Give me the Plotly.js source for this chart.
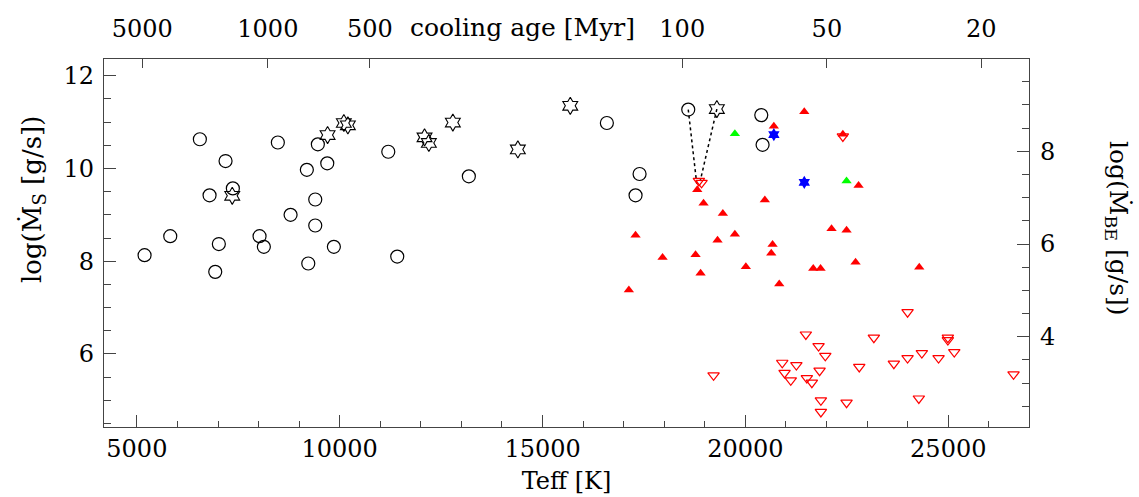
<!DOCTYPE html>
<html>
<head>
<meta charset="utf-8">
<script src="https://cdn.plot.ly/plotly-3.0.1.min.js"></script>
<style>html,body{margin:0;padding:0;background:#fff;}#chart{width:1139px;height:497px;}</style>
</head>
<body>
<div id="chart"></div>
<script>
// Open circles (left axis, log Mdot_S)
const circlesTeff = [5190, 5823, 6553, 6792, 6932, 7021, 7186, 7366, 8024, 8130, 8475, 8789, 9190, 9225, 9397, 9397, 9461, 9693, 9856, 11197, 11418, 13183, 16585, 17391, 17292, 18591, 20391, 20423];
const circlesLogMs = [8.13, 8.54, 10.63, 9.42, 7.77, 8.37, 10.16, 9.57, 8.54, 8.31, 10.56, 9.00, 9.97, 7.95, 9.33, 8.77, 10.52, 10.11, 8.31, 10.36, 8.10, 9.83, 10.98, 9.88, 9.42, 11.27, 11.15, 10.51];

// Open six-pointed stars (left axis)
const starsTeff = [7351, 9701, 10102, 10201, 12091, 12197, 12789, 14391, 15683, 19296];
const starsLogMs = [9.41, 10.72, 10.98, 10.93, 10.67, 10.55, 10.99, 10.41, 11.35, 11.28];

// Filled red triangles (right axis, log Mdot_BE)
const redTeff = [18813, 18968, 19444, 20479, 17292, 19313, 19740, 17958, 18771, 20669, 20637, 20011, 18895, 20834, 17127, 20701, 21451, 22402, 22789, 22123, 22493, 21672, 21852, 22715, 24285];
const redLogMbe = [7.17, 6.88, 6.66, 6.95, 6.19, 6.08, 6.21, 5.71, 5.77, 5.99, 5.80, 5.51, 5.37, 5.14, 5.01, 8.54, 8.85, 8.37, 7.26, 6.33, 6.30, 5.47, 5.47, 5.61, 5.50];

// Green triangles (right axis)
const greenTeff = [19740, 22493];
const greenLogMbe = [8.38, 7.36];

// Blue stars (right axis)
const blueTeff = [20701, 21451];
const blueLogMbe = [8.36, 7.33];

// Open red inverted triangles, upper limits (right axis)
const upperTeff = [18853, 18919, 19215, 20908, 21256, 20965, 21118, 23997, 21490, 23166, 24990, 24990, 21803, 21969, 21828, 21514, 21638, 22806, 23659, 23997, 24349, 24761, 25148, 26609, 21860, 22493, 24275, 21860, 22402];
const upperLogMbe = [7.36, 7.32, 3.17, 3.44, 3.39, 3.22, 3.06, 4.53, 4.05, 3.98, 3.98, 3.93, 3.80, 3.59, 3.27, 3.11, 3.01, 3.35, 3.42, 3.54, 3.65, 3.54, 3.67, 3.19, 2.63, 2.58, 2.67, 2.38, 8.32];

// Dotted connecting lines (left axis units)
const link1Teff = [18591, 18800];
const link1LogMs = [11.27, 9.67];
const link2Teff = [19296, 18886];
const link2LogMs = [11.28, 9.73];

// Top axis: cooling age ticks
const coolingAgeLabels = ['5000', '1000', '500', '100', '50', '20'];
const coolingAgeTeff = [5133, 8229, 10743, 18443, 22008, 25813];

const FONT = 'DejaVu Serif';
const FS = 24;
const xRange = [4190, 26990];
const yLeftRange = [4.425, 12.36];
const yRightRange = [yLeftRange[0] - 2.37, yLeftRange[1] - 2.37];

const traces = [
  {x: link1Teff, y: link1LogMs, mode: 'lines', line: {color: '#000', width: 1.5, dash: 'dot'}, xaxis: 'x', yaxis: 'y', hoverinfo: 'skip'},
  {x: link2Teff, y: link2LogMs, mode: 'lines', line: {color: '#000', width: 1.5, dash: 'dot'}, xaxis: 'x', yaxis: 'y', hoverinfo: 'skip'},
  {x: circlesTeff, y: circlesLogMs, mode: 'markers', marker: {symbol: 'circle-open', size: 13, color: '#000', line: {width: 1.2}}, xaxis: 'x', yaxis: 'y'},
  {x: starsTeff, y: starsLogMs, mode: 'markers', marker: {symbol: 'hexagram-open', size: 13, color: '#000', line: {width: 1.1}}, xaxis: 'x', yaxis: 'y'},
  {x: upperTeff, y: upperLogMbe, mode: 'markers', marker: {symbol: 'triangle-down-open', size: 10, color: '#ff0000', line: {width: 1.2}}, xaxis: 'x', yaxis: 'y2'},
  {x: redTeff, y: redLogMbe, mode: 'markers', marker: {symbol: 'triangle-up', size: 9, color: '#ff0000'}, xaxis: 'x', yaxis: 'y2'},
  {x: greenTeff, y: greenLogMbe, mode: 'markers', marker: {symbol: 'triangle-up', size: 9, color: '#00ff00'}, xaxis: 'x', yaxis: 'y2'},
  {x: blueTeff, y: blueLogMbe, mode: 'markers', marker: {symbol: 'hexagram', size: 10, color: '#0000ff'}, xaxis: 'x', yaxis: 'y2'},
  // invisible trace to activate top axis
  {x: [coolingAgeTeff[0]], y: [yLeftRange[0] - 10], mode: 'markers', marker: {opacity: 0}, xaxis: 'x2', yaxis: 'y', hoverinfo: 'skip'}
];

const axisLine = '#444';
const layout = {
  width: 1139, height: 497,
  margin: {l: 104, r: 110, t: 59, b: 70},
  paper_bgcolor: '#fff', plot_bgcolor: '#fff',
  showlegend: false,
  font: {family: FONT, color: '#000', size: FS},
  xaxis: {
    range: xRange, dtick: 5000, tick0: 0, tickformat: 'd',
    ticks: 'inside', ticklen: 12, tickcolor: axisLine, tickwidth: 1,
    minor: {dtick: 1000, ticks: 'inside', ticklen: 6, tickcolor: axisLine},
    showline: true, linecolor: axisLine, linewidth: 1.2, mirror: true,
    showgrid: false, zeroline: false,
    tickfont: {family: FONT, size: FS},
    title: {text: 'Teff [K]', font: {family: FONT, size: FS}, standoff: 10}
  },
  xaxis2: {
    overlaying: 'x', side: 'top', range: xRange,
    tickmode: 'array', tickvals: coolingAgeTeff, ticktext: coolingAgeLabels,
    ticks: 'inside', ticklen: 9, tickcolor: axisLine, ticklabelstandoff: 16,
    showline: false, showgrid: false, zeroline: false,
    tickfont: {family: FONT, size: FS}
  },
  yaxis: {
    range: yLeftRange, dtick: 2, tick0: 0,
    ticks: 'inside', ticklen: 12, tickcolor: axisLine, ticklabelstandoff: 4,
    minor: {dtick: 0.5, ticks: 'inside', ticklen: 7, tickcolor: axisLine},
    showline: true, linecolor: axisLine, linewidth: 1.2, mirror: true,
    showgrid: false, zeroline: false,
    tickfont: {family: FONT, size: FS}
  },
  yaxis2: {
    overlaying: 'y', side: 'right', range: yRightRange, dtick: 2, tick0: 0,
    ticks: 'inside', ticklen: 12, tickcolor: axisLine, ticklabelstandoff: 10,
    minor: {dtick: 0.5, ticks: 'inside', ticklen: 7, tickcolor: axisLine},
    showline: false, showgrid: false, zeroline: false,
    tickfont: {family: FONT, size: FS}
  },
  annotations: [
    {text: 'cooling age [Myr]', xref: 'paper', yref: 'paper', x: (522 - 104) / 925, y: 1, yshift: 32, xanchor: 'center', yanchor: 'middle', showarrow: false, font: {family: FONT, size: 25}},
    {text: 'log(Ṁ<sub>S</sub> [g/s])', textangle: -90, xref: 'paper', yref: 'paper', x: (33 - 104) / 925, y: (427 - 200) / 368, xanchor: 'center', yanchor: 'middle', showarrow: false, font: {family: FONT, size: 26}},
    {text: 'log(Ṁ<sub>BE</sub> [g/s])', textangle: 90, xref: 'paper', yref: 'paper', x: (1117 - 104) / 925, y: (427 - 228) / 368, xanchor: 'center', yanchor: 'middle', showarrow: false, font: {family: FONT, size: 25}}
  ]
};

Plotly.newPlot('chart', traces, layout, {staticPlot: true, displayModeBar: false});
</script>
</body>
</html>
